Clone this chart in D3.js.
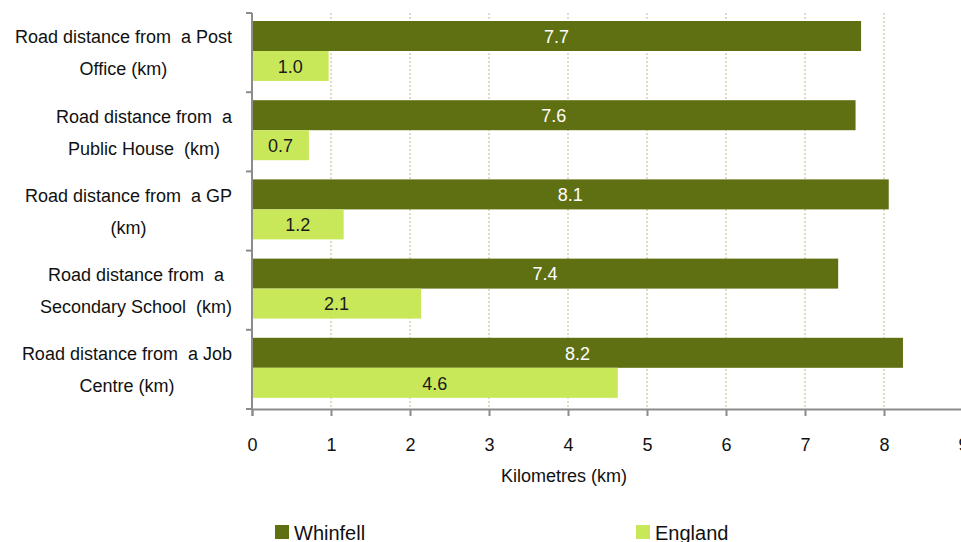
<!DOCTYPE html>
<html>
<head>
<meta charset="utf-8">
<script src="https://cdn.jsdelivr.net/npm/d3@7"></script>
<style>
  body { margin: 0; background: #fff; }
  svg { display: block; font-family: "Liberation Sans", Arial, sans-serif; }
</style>
</head>
<body>
<svg id="chart" width="961" height="542"></svg>
<script>
// chart data
var categories = [
  ["Road distance from  a Post", "Office (km)"],
  ["Road distance from  a", "Public House  (km)"],
  ["Road distance from  a GP", "(km)"],
  ["Road distance from  a", "Secondary School  (km)"],
  ["Road distance from  a Job", "Centre (km)"]
];
var seriesNames = ["Whinfell", "England"];
var whinfell = [7.71, 7.64, 8.06, 7.42, 8.24];
var england = [0.97, 0.72, 1.16, 2.14, 4.63];
var xTicks = [0, 1, 2, 3, 4, 5, 6, 7, 8, 9];
var xTitle = "Kilometres (km)";

var colors = { Whinfell: "#5f7013", England: "#c8e85a" };
var labelColors = { Whinfell: "#ffffff", England: "#1a1a1a" };

var svg = d3.select("#chart");

var x = d3.scaleLinear().domain([0, 9]).range([252, 963]);
var y0 = d3.scaleBand()
    .domain(d3.range(categories.length))
    .range([13, 409])
    .padding(0);
var y1 = d3.scaleBand()
    .domain(seriesNames)
    .range([8, 68])
    .padding(0);

var rows = categories.map(function(c, i){
  return { i: i, label: c, values: [
    { key: "Whinfell", value: whinfell[i] },
    { key: "England", value: england[i] }
  ]};
});

// gridlines
svg.append("g")
  .selectAll("line")
  .data(xTicks.filter(function(d){ return d > 0; }))
  .enter().append("line")
  .attr("x1", function(d){ return x(d); })
  .attr("x2", function(d){ return x(d); })
  .attr("y1", 13)
  .attr("y2", 409)
  .attr("stroke", "#d9d3b4")
  .attr("stroke-width", 1.6)
  .attr("stroke-dasharray", "2,2");

// bars
var groups = svg.append("g")
  .selectAll("g")
  .data(rows)
  .enter().append("g")
  .attr("transform", function(d){ return "translate(0," + y0(d.i) + ")"; });

groups.selectAll("rect")
  .data(function(d){ return d.values; })
  .enter().append("rect")
  .attr("x", x(0))
  .attr("y", function(d){ return y1(d.key); })
  .attr("width", function(d){ return x(d.value) - x(0); })
  .attr("height", y1.bandwidth())
  .attr("fill", function(d){ return colors[d.key]; });

groups.selectAll("text")
  .data(function(d){ return d.values; })
  .enter().append("text")
  .attr("x", function(d){ return (x(0) + x(d.value)) / 2; })
  .attr("y", function(d){ return y1(d.key) + y1.bandwidth() / 2; })
  .attr("dy", "0.38em")
  .attr("text-anchor", "middle")
  .attr("font-size", 18)
  .attr("fill", function(d){ return labelColors[d.key]; })
  .text(function(d){ return d.value.toFixed(1); });

// x axis
var xAxis = svg.append("g")
  .attr("transform", "translate(0,409)")
  .call(d3.axisBottom(x).tickValues(xTicks).tickSize(7).tickPadding(22).tickFormat(d3.format("d")));
xAxis.select(".domain").attr("stroke", "#8c8c8c").attr("stroke-width", 2);
xAxis.selectAll(".tick line").attr("stroke", "#8c8c8c").attr("stroke-width", 2);
xAxis.selectAll(".tick text")
  .attr("font-size", 18)
  .attr("font-family", "Liberation Sans, Arial, sans-serif")
  .attr("fill", "#111");

// y axis line + boundary ticks
var yAxis = svg.append("g");
yAxis.append("line")
  .attr("x1", x(0)).attr("x2", x(0))
  .attr("y1", 13).attr("y2", 409)
  .attr("stroke", "#8c8c8c").attr("stroke-width", 2);
yAxis.selectAll("line.tick")
  .data(d3.range(categories.length + 1))
  .enter().append("line")
  .attr("class", "tick")
  .attr("x1", x(0) - 6).attr("x2", x(0))
  .attr("y1", function(d){ return d < categories.length ? y0(d) : 409; })
  .attr("y2", function(d){ return d < categories.length ? y0(d) : 409; })
  .attr("stroke", "#8c8c8c").attr("stroke-width", 2);

// category labels: block right-aligned, lines centered in block
rows.forEach(function(r){
  var cy = y0(r.i) + y0.bandwidth() / 2;
  var g = svg.append("g");
  var texts = g.selectAll("text")
    .data(r.label)
    .enter().append("text")
    .attr("font-size", 18)
    .attr("fill", "#111")
    .attr("text-anchor", "middle")
    .style("white-space", "pre")
    .attr("y", function(d, k){ return cy + (k - (r.label.length - 1) / 2) * 32; })
    .attr("dy", "0.38em")
    .text(function(d){ return d; });
  var maxW = 0;
  texts.each(function(){ maxW = Math.max(maxW, this.getComputedTextLength()); });
  texts.attr("x", 232 - maxW / 2);
});

// x axis title
svg.append("text")
  .attr("x", 564)
  .attr("y", 476)
  .attr("dy", "0.36em")
  .attr("text-anchor", "middle")
  .attr("font-size", 18)
  .attr("fill", "#111")
  .text(xTitle);

// legend
var legendX = { Whinfell: 275, England: 636 };
var legend = svg.append("g")
  .selectAll("g")
  .data(seriesNames)
  .enter().append("g")
  .attr("transform", function(d){ return "translate(" + legendX[d] + ",525)"; });
legend.append("rect")
  .attr("width", 14).attr("height", 14)
  .attr("fill", function(d){ return colors[d]; });
legend.append("text")
  .attr("x", 19)
  .attr("y", 7)
  .attr("dy", "0.38em")
  .attr("font-size", 20)
  .attr("fill", "#111")
  .text(function(d){ return d; });
</script>
</body>
</html>
